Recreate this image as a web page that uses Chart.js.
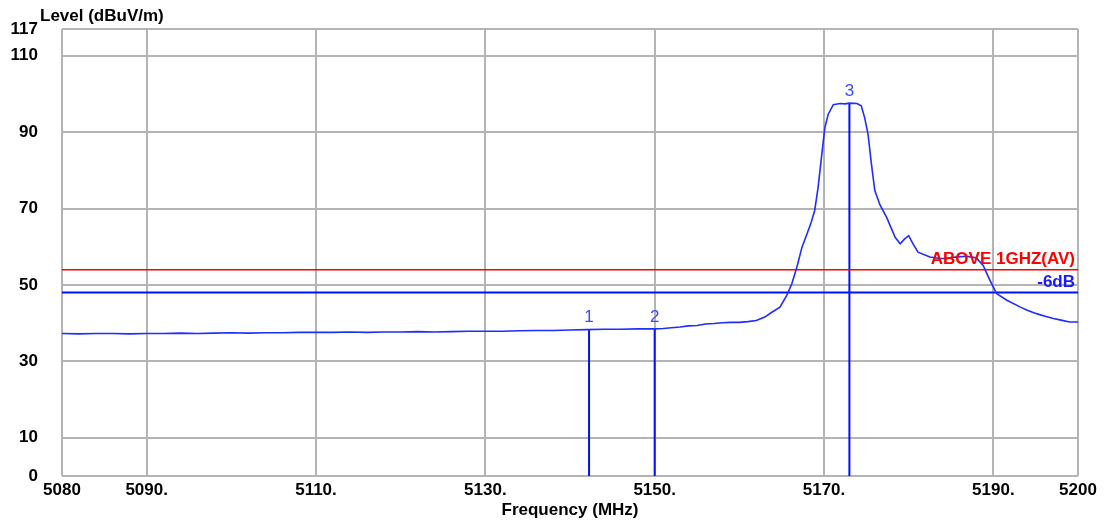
<!DOCTYPE HTML>
<html lang="en">
<head>
    <meta charset="utf-8">
    <title>Level vs Frequency</title>
    <script src="https://cdn.jsdelivr.net/npm/chart.js@4.4.1/dist/chart.umd.min.js"></script>
    <style>
        html, body {
            margin: 0;
            padding: 0;
            background: #fff;
        }

        #chart-box {
            width: 1104px;
            height: 521px;
        }
    </style>
</head>
<body>
    <div id="chart-box">
        <canvas id="level-chart" width="1104" height="521"></canvas>
    </div>

    <script>
        // trace (MHz, dBuV/m)
        const freq = [
            5080, 5082, 5084, 5086, 5088, 5090, 5092, 5094, 5096, 5098,
            5100, 5102, 5104, 5106, 5108, 5110, 5112, 5114, 5116, 5118,
            5120, 5122, 5124, 5126, 5128, 5130, 5132, 5134, 5136, 5138,
            5140, 5142, 5144, 5146, 5148, 5150, 5151, 5152, 5153, 5154,
            5155, 5156, 5157, 5158, 5159, 5160, 5161, 5162, 5163, 5163.8,
            5164.8, 5165.6, 5166.2, 5166.8, 5167.4, 5168, 5168.5, 5168.9, 5169.3, 5169.7,
            5170.1, 5170.5, 5171.1, 5171.9, 5172.5, 5173, 5173.9, 5174.4, 5174.8, 5175.2,
            5175.6, 5176, 5176.6, 5177.4, 5178.4, 5179, 5179.5, 5180, 5180.5, 5181.1,
            5182.5, 5183.5, 5184.5, 5185.5, 5186.8, 5188, 5188.8, 5189.6, 5190.4, 5191.6,
            5193.2, 5194, 5195.1, 5196, 5197.1, 5198, 5199, 5200
        ];
        const level = [
            37.3, 37.2, 37.3, 37.3, 37.2, 37.3, 37.3, 37.4, 37.3, 37.4,
            37.5, 37.4, 37.5, 37.5, 37.6, 37.6, 37.6, 37.7, 37.6, 37.7,
            37.7, 37.8, 37.7, 37.8, 37.9, 37.9, 37.9, 38.0, 38.1, 38.1,
            38.2, 38.3, 38.4, 38.4, 38.5, 38.5, 38.6, 38.8, 39.0, 39.3,
            39.4, 39.8, 39.9, 40.1, 40.2, 40.2, 40.4, 40.7, 41.6, 42.8,
            44.2, 47.3, 50.3, 54.7, 59.9, 63.4, 66.5, 69.5, 75.5, 83.4,
            91.2, 94.7, 97.2, 97.5, 97.4, 97.6, 97.5, 96.9, 93.8, 89.5,
            81.7, 74.7, 71.0, 67.7, 62.5, 60.8, 62.0, 62.9, 60.8, 58.6,
            57.3, 57.0, 56.9, 57.3, 57.5, 57.1, 55.1, 51.2, 47.7, 46.0,
            44.2, 43.4, 42.5, 41.9, 41.2, 40.8, 40.3, 40.3
        ];

        // markers
        const markerFreq = [5142.25, 5150.0, 5173.0];
        const markerLevel = [38.4, 38.5, 97.6];
        const markerText = ['1', '2', '3'];

        // limit lines
        const limitLevel = 54;
        const limitText = 'ABOVE 1GHZ(AV)';
        const marginLevel = 48;
        const marginText = '-6dB';

        // axes
        const xTicks = [5080, 5090, 5110, 5130, 5150, 5170, 5190, 5200];
        const xTickText = ['5080', '5090.', '5110.', '5130.', '5150.', '5170.', '5190.', '5200'];
        const yTicks = [0, 10, 30, 50, 70, 90, 110, 117];

        const fontName = '"Liberation Sans", Arial, sans-serif';
        const gridGray = '#b4b4b4';

        const trace = freq.map((f, i) => ({ x: f, y: level[i] }));

        const datasets = [
            {
                data: trace,
                borderColor: '#1f2dff',
                borderWidth: 1.6,
                pointRadius: 0,
                showLine: true,
                tension: 0
            },
            {
                data: [{ x: xTicks[0], y: limitLevel }, { x: xTicks[xTicks.length - 1], y: limitLevel }],
                borderColor: '#ff0000',
                borderWidth: 1.6,
                pointRadius: 0,
                showLine: true
            },
            {
                data: [{ x: xTicks[0], y: marginLevel }, { x: xTicks[xTicks.length - 1], y: marginLevel }],
                borderColor: '#0010ff',
                borderWidth: 2,
                pointRadius: 0,
                showLine: true
            }
        ];

        // vertical marker lines, from the axis up to the trace
        markerFreq.forEach((f, i) => {
            datasets.push({
                data: [{ x: f, y: 0 }, { x: f, y: markerLevel[i] }],
                borderColor: '#0010ff',
                borderWidth: 2,
                pointRadius: 0,
                showLine: true
            });
        });

        const textPlugin = {
            id: 'textPlugin',
            afterDatasetsDraw(chart) {
                const ctx = chart.ctx;
                const xs = chart.scales.x;
                const ys = chart.scales.y;
                const area = chart.chartArea;
                ctx.save();

                // y axis title
                ctx.fillStyle = '#000';
                ctx.font = 'bold 17px ' + fontName;
                ctx.textAlign = 'left';
                ctx.textBaseline = 'middle';
                ctx.fillText('Level (dBuV/m)', 40, 16);

                // limit labels
                ctx.textAlign = 'right';
                ctx.textBaseline = 'bottom';
                ctx.font = 'bold 17px ' + fontName;
                ctx.fillStyle = '#ff0000';
                ctx.fillText(limitText, area.right - 3, ys.getPixelForValue(limitLevel) - 2);
                ctx.fillStyle = '#1a1aff';
                ctx.fillText(marginText, area.right - 3, ys.getPixelForValue(marginLevel) - 2);

                // marker numbers
                ctx.textAlign = 'center';
                ctx.font = '17px ' + fontName;
                ctx.fillStyle = '#3a4cff';
                markerFreq.forEach((f, i) => {
                    ctx.fillText(markerText[i], xs.getPixelForValue(f), ys.getPixelForValue(markerLevel[i]) - 3);
                });

                ctx.restore();
            }
        };

        new Chart(document.getElementById('level-chart').getContext('2d'), {
            type: 'scatter',
            data: { datasets: datasets },
            options: {
                responsive: false,
                animation: false,
                layout: {
                    padding: { top: 29, right: 26, left: 0, bottom: 0 }
                },
                plugins: {
                    legend: { display: false },
                    tooltip: { enabled: false }
                },
                scales: {
                    x: {
                        type: 'linear',
                        min: 5080,
                        max: 5200,
                        afterFit: scale => {
                            scale.height = 45;
                            scale.paddingLeft = 0;
                            scale.paddingRight = 0;
                        },
                        afterBuildTicks: scale => {
                            scale.ticks = xTicks.map(v => ({ value: v }));
                        },
                        ticks: {
                            autoSkip: false,
                            maxRotation: 0,
                            padding: 4,
                            color: '#000',
                            font: { family: fontName, size: 17, weight: 'bold' },
                            callback: (v) => {
                                const i = xTicks.indexOf(v);
                                return i >= 0 ? xTickText[i] : '';
                            }
                        },
                        grid: {
                            color: gridGray,
                            lineWidth: 2,
                            drawTicks: false
                        },
                        border: { display: false },
                        title: {
                            display: true,
                            text: 'Frequency (MHz)',
                            color: '#000',
                            font: { family: fontName, size: 17, weight: 'bold' },
                            padding: { top: 0, bottom: 0 }
                        }
                    },
                    y: {
                        type: 'linear',
                        min: 0,
                        max: 117,
                        afterFit: scale => {
                            scale.width = 62;
                            scale.paddingTop = 0;
                            scale.paddingBottom = 0;
                        },
                        afterBuildTicks: scale => {
                            scale.ticks = yTicks.map(v => ({ value: v }));
                        },
                        ticks: {
                            autoSkip: false,
                            padding: 24,
                            color: '#000',
                            font: { family: fontName, size: 17, weight: 'bold' }
                        },
                        grid: {
                            color: gridGray,
                            lineWidth: 2,
                            drawTicks: false
                        },
                        border: { display: false }
                    }
                }
            },
            plugins: [textPlugin]
        });
    </script>
</body>
</html>
